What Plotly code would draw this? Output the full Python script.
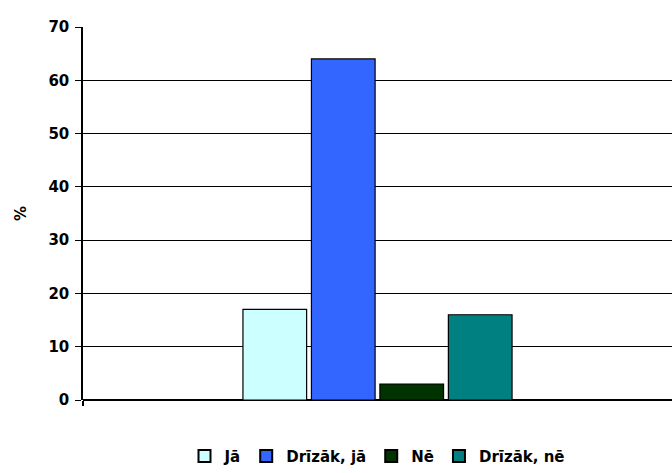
import plotly.graph_objects as go

# Survey answer shares (%)
answers = ["Jā", "Drīzāk, jā", "Nē", "Drīzāk, nē"]
shares = [17, 64, 3, 16]
bar_colors = ["#CCFFFF", "#3366FF", "#003300", "#008080"]
y_ticks = [0, 10, 20, 30, 40, 50, 60, 70]

fig = go.Figure()
for name, value, color in zip(answers, shares, bar_colors):
    fig.add_trace(go.Bar(
        x=[""],
        y=[value],
        name=name,
        marker=dict(color=color, line=dict(color="black", width=1.2)),
    ))

fig.update_layout(
    width=672,
    height=473,
    margin=dict(l=83, r=0, t=27, b=73),
    paper_bgcolor="white",
    plot_bgcolor="white",
    font=dict(family="DejaVu Sans, Arial, sans-serif", size=15, color="black", weight="bold"),
    barmode="group",
    bargap=0.535,
    bargroupgap=0.07,
    showlegend=True,
    legend=dict(
        orientation="h",
        x=0.5,
        xanchor="center",
        y=-0.195,
        yanchor="bottom",
        font=dict(size=15),
        traceorder="normal",
        itemsizing="constant",
        itemwidth=30,
    ),
    xaxis=dict(
        showticklabels=False,
        showgrid=False,
        showline=False,
        zeroline=False,
        ticks="outside",
        tickmode="array",
        tickvals=[-0.5],
        ticklen=5,
        tickwidth=1.5,
        tickcolor="black",
        range=[-0.5, 0.5],
    ),
    yaxis=dict(
        range=[0, 70],
        tickvals=y_ticks,
        showgrid=True,
        gridcolor="black",
        gridwidth=1.2,
        zeroline=True,
        zerolinecolor="black",
        zerolinewidth=2,
        showline=True,
        linecolor="black",
        linewidth=1.5,
        ticks="outside",
        ticklen=6,
        tickcolor="black",
        tickwidth=1.2,
        ticklabelstandoff=3,
        title=dict(text="%", standoff=18, font=dict(size=15)),
    ),
)

fig.write_html("out.html")
